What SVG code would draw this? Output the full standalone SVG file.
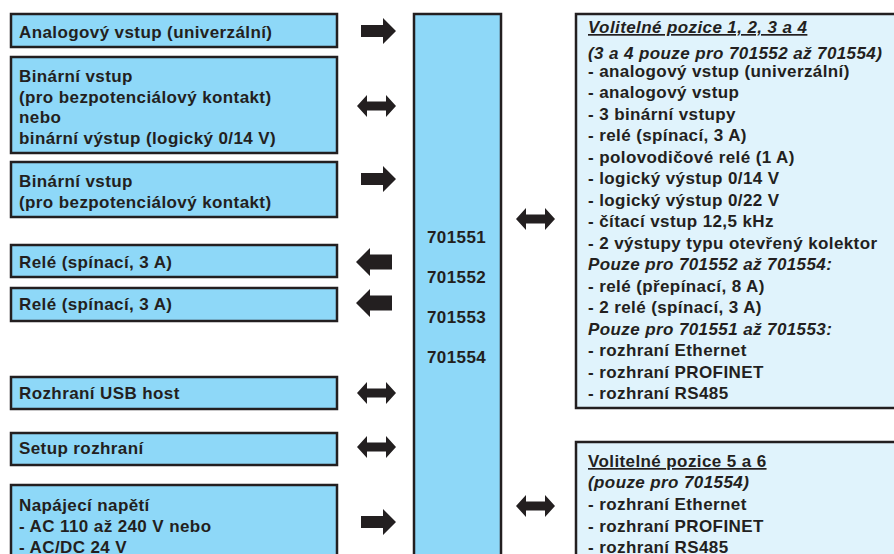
<svg xmlns="http://www.w3.org/2000/svg" width="894" height="554" viewBox="0 0 894 554">
<style>
.box{fill:#8ED8F8;stroke:#231F20;stroke-width:2.5}
.opt{fill:#E0F3FC;stroke:#231F20;stroke-width:2.5}
text{font-family:"Liberation Sans",Arial,sans-serif;font-weight:bold;font-size:17px;fill:#231F20;letter-spacing:0.4px}
.it{font-style:italic}
.ul{text-decoration:underline}
.arr{fill:#231F20}
</style>
<defs>
<path id="ra" d="M0,-6 H22 V-13 L35,0 L22,13 V6 H0 Z"/>
<path id="la" d="M0,0 L14,-14 V-7.5 H36 V7.5 H14 V14 Z"/>
<path id="da" d="M0,0 L10,-11 V-4.5 H29 V-11 L39,0 L29,11 V4.5 H10 V11 Z"/>
</defs>
<rect width="894" height="554" fill="#FFFFFF"/>
<g id="n-analog"><rect class="box" x="11" y="14" width="326" height="33"/><text x="19" y="37.5">Analogový vstup (univerzální)</text></g>
<g id="n-binio"><rect class="box" x="11" y="57" width="326" height="96"/>
<text x="19" y="82">Binární vstup</text><text x="19" y="102.7">(pro bezpotenciálový kontakt)</text><text x="19" y="123.4">nebo</text><text x="19" y="144">binární výstup (logický 0/14 V)</text></g>
<g id="n-binin"><rect class="box" x="11" y="162" width="326" height="55"/>
<text x="19" y="186.5">Binární vstup</text><text x="19" y="208">(pro bezpotenciálový kontakt)</text></g>
<g id="n-rele1"><rect class="box" x="11" y="245" width="326" height="32"/><text x="19" y="267.5">Relé (spínací, 3 A)</text></g>
<g id="n-rele2"><rect class="box" x="11" y="288" width="326" height="33"/><text x="19" y="310">Relé (spínací, 3 A)</text></g>
<g id="n-usb"><rect class="box" x="11" y="377" width="326" height="32"/><text x="19" y="399">Rozhraní USB host</text></g>
<g id="n-setup"><rect class="box" x="11" y="433" width="326" height="32"/><text x="19" y="454">Setup rozhraní</text></g>
<g id="n-power"><rect class="box" x="11" y="485" width="326" height="80"/>
<text x="19" y="511">Napájecí napětí</text><text x="19" y="532">- AC 110 až 240 V nebo</text><text x="19" y="552.5">- AC/DC 24 V</text></g>
<g id="n-device"><rect class="box" x="414" y="14" width="87" height="560"/>
<text x="427" y="243">701551</text><text x="427" y="283">701552</text><text x="427" y="323">701553</text><text x="427" y="363">701554</text></g>
<g id="n-opt14"><rect class="opt" x="576" y="14" width="330" height="394"/>
<text x="588" y="33" class="it ul">Volitelné pozice 1, 2, 3 a 4</text>
<text x="588" y="59" class="it">(3 a 4 pouze pro 701552 až 701554)</text>
<text x="588" y="76.7">- analogový vstup (univerzální)</text>
<text x="588" y="98.2">- analogový vstup</text>
<text x="588" y="119.7">- 3 binární vstupy</text>
<text x="588" y="141.2">- relé (spínací, 3 A)</text>
<text x="588" y="162.7">- polovodičové relé (1 A)</text>
<text x="588" y="184.2">- logický výstup 0/14 V</text>
<text x="588" y="205.7">- logický výstup 0/22 V</text>
<text x="588" y="227.2">- čítací vstup 12,5 kHz</text>
<text x="588" y="248.7">- 2 výstupy typu otevřený kolektor</text>
<text x="588" y="270.2" class="it">Pouze pro 701552 až 701554:</text>
<text x="588" y="291.7">- relé (přepínací, 8 A)</text>
<text x="588" y="313.2">- 2 relé (spínací, 3 A)</text>
<text x="588" y="334.7" class="it">Pouze pro 701551 až 701553:</text>
<text x="588" y="356.2">- rozhraní Ethernet</text>
<text x="588" y="377.7">- rozhraní PROFINET</text>
<text x="588" y="399.2">- rozhraní RS485</text></g>
<g id="n-opt56"><rect class="opt" x="576" y="442" width="330" height="130"/>
<text x="588" y="467" class="ul">Volitelné pozice 5 a 6</text>
<text x="588" y="487.7" class="it">(pouze pro 701554)</text>
<text x="588" y="510">- rozhraní Ethernet</text>
<text x="588" y="532">- rozhraní PROFINET</text>
<text x="588" y="552.7">- rozhraní RS485</text></g>
<g id="connectors" class="arr">
<use href="#ra" x="361" y="31"/>
<use href="#da" x="357" y="106"/>
<use href="#ra" x="361" y="179"/>
<use href="#la" x="356" y="262"/>
<use href="#la" x="356" y="303"/>
<use href="#da" x="357" y="393"/>
<use href="#da" x="357" y="447"/>
<use href="#ra" x="361" y="522"/>
<use href="#da" x="516" y="219"/>
<use href="#da" x="516" y="506"/>
</g>
</svg>
